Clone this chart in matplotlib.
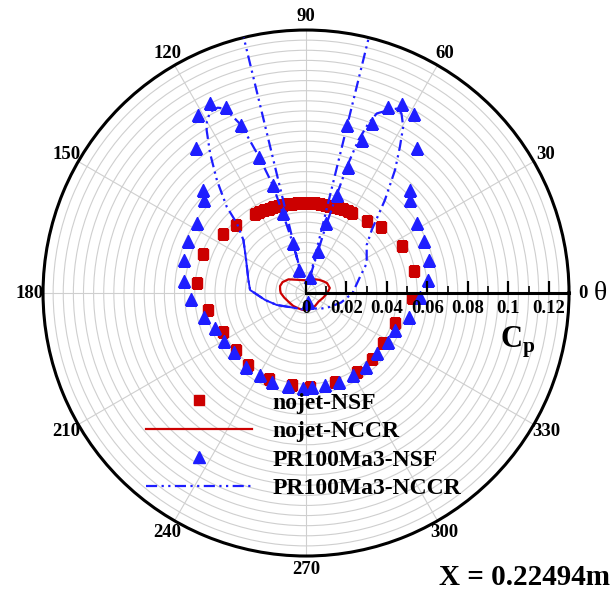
import numpy as np
import matplotlib.pyplot as plt

plt.rcParams['font.family'] = 'Liberation Serif'
plt.rcParams['font.weight'] = 'bold'
plt.rcParams['mathtext.fontset'] = 'custom'
plt.rcParams['mathtext.rm'] = 'Liberation Serif:bold'
plt.rcParams['mathtext.bf'] = 'Liberation Serif:bold'

#%% data: theta in degrees, Cp as radius

# nojet-NSF (squares)
nojet_nsf_th = [11.5, 26.3, 41.2, 49.7, 60, 63, 66, 69, 72, 75, 78, 81, 84, 87, 90, 93,
                96, 99, 102, 105, 108, 111, 114, 117, 120, 123, 135.8, 144.7, 159.3,
                174.6, 189.8, 204.9, 219, 231, 247, 261.2, 272.4, 288.1, 302.8, 315,
                326.9, 341.2, 357.1]
nojet_nsf_cp = [0.0545, 0.053, 0.0492, 0.0468, 0.0456, 0.0454, 0.0452, 0.045, 0.0448,
                0.0447, 0.0446, 0.0446, 0.0446, 0.0446, 0.0446, 0.0446, 0.0446, 0.0447,
                0.0448, 0.0449, 0.0451, 0.0453, 0.0456, 0.0459, 0.0462, 0.0466, 0.0482,
                0.0504, 0.0542, 0.0542, 0.0493, 0.0453, 0.0447, 0.0457, 0.0463, 0.046,
                0.0463, 0.0461, 0.0462, 0.046, 0.0456, 0.0464, 0.0523]

# nojet-NCCR (red line)
nojet_nccr_th = [0, 12, 25, 33, 45, 57, 75, 90, 105, 121, 142, 155, 165, 173, 180, 192,
                 206, 225, 243, 261, 284, 305, 325, 345, 360]
nojet_nccr_cp = [0.0105, 0.012, 0.0115, 0.0105, 0.0092, 0.0081, 0.0068, 0.0063, 0.0066,
                 0.0076, 0.011, 0.0128, 0.0133, 0.0129, 0.0125, 0.011, 0.0097, 0.009,
                 0.0085, 0.0085, 0.0083, 0.0078, 0.0075, 0.0088, 0.0105]

# PR100Ma3-NSF (triangles)
pr_nsf_th = [358.1, 347.1, 337.4, 329.4, 319.5, 309, 300, 290.6, 281.7, 273.6, 268.4,
             258.9, 249.2, 240.7, 230.8, 219.3, 210.4, 201.2, 193.1, 183, 174.4, 165,
             156.2, 147.3, 137.8, 134.9, 127.2, 121.2, 116.8, 113.3, 111.1, 109, 107.1,
             106.3, 104.8, 106.5, 285, 76.2, 74.5, 74, 72.6, 71.5, 70.1, 76.4, 68.8,
             66.3, 63.1, 58.8, 52.7, 44.7, 41.8, 32.4, 23.7, 15, 6.1]
pr_nsf_cp = [0.0563, 0.0523, 0.0476, 0.0472, 0.0459, 0.0468, 0.0467, 0.0469, 0.0464,
             0.0464, 0.0468, 0.0468, 0.0469, 0.0464, 0.0469, 0.0458, 0.0468, 0.0482,
             0.0516, 0.0569, 0.0605, 0.0627, 0.0636, 0.0642, 0.0684, 0.0719, 0.0898,
             0.1027, 0.105, 0.1, 0.0889, 0.0709, 0.0558, 0.041, 0.0257, 0.0118, 0.0044,
             0.0082, 0.0217, 0.0358, 0.0507, 0.0658, 0.0807, 0.0854, 0.0899, 0.1004,
             0.105, 0.1032, 0.0902, 0.0723, 0.0689, 0.0647, 0.0638, 0.063, 0.0607]

# PR100Ma3-NCCR (blue dash-dot), runs past the outer circle between 76 and 104 deg
pr_nccr_th = [270, 295.5, 312, 330, 345, 0, 16.8, 26.1, 38.3, 43.8, 49.7, 54.1, 57.3,
              59.7, 62.0, 63.8, 65.8, 68.5, 69.8, 71.1, 72.1, 72.6, 73.5, 74.0, 76.2,
              76.2, 80, 100, 103.7, 104.6, 104.8, 106.3, 107.1, 109.0, 111.1, 113.7,
              115.5, 117.9, 120.0, 121.4, 124.5, 128.3, 132.6, 134.8, 139.8, 151.2,
              167.3, 176.9, 189.7, 202.3, 238.7, 270]
pr_nccr_cp = [0.0085, 0.0084, 0.0105, 0.0137, 0.018, 0.023, 0.0279, 0.0334, 0.0382,
              0.045, 0.0603, 0.075, 0.0859, 0.0952, 0.1005, 0.1016, 0.0991, 0.0954,
              0.0893, 0.0799, 0.0655, 0.0507, 0.0359, 0.0221, 0.0083, 0.1363, 0.16,
              0.16, 0.1362, 0.0118, 0.0257, 0.041, 0.0558, 0.0709, 0.0889, 0.0996,
              0.1015, 0.1013, 0.098, 0.0943, 0.0837, 0.0711, 0.0579, 0.0485, 0.0405,
              0.0338, 0.0292, 0.0277, 0.0205, 0.0156, 0.0088, 0.0085]
solid_from, solid_to = 44, 51   # this stretch looks solid in the original

r_major = [0, 0.02, 0.04, 0.06, 0.08, 0.1, 0.12]
r_minor = [0.01, 0.03, 0.05, 0.07, 0.09, 0.11]
theta_labels = ['0', '30', '60', '90', '120', '150', '180', '210', '240', '270', '300', '330']

red = '#cc0000'
blue = '#1e1eff'

#%% figure
fig = plt.figure(figsize=(6.16, 5.90), dpi=100)
ax = fig.add_axes([0.0698, 0.0576, 0.854, 0.8915], projection='polar')
ax.set_ylim(0, 0.13)

ax.set_thetagrids(np.arange(0, 360, 30), theta_labels, fontsize=13.5, fontweight='bold')
ax.set_xticks(np.deg2rad(np.arange(0, 360, 6)), minor=True)
ax.tick_params(axis='x', which='major', direction='in', length=13, width=1.8, pad=3)
ax.tick_params(axis='x', which='minor', direction='in', length=6, width=1)
ax.set_yticks(np.arange(0.005, 0.1301, 0.005))
ax.set_yticklabels([])
ax.tick_params(axis='y', length=0)
ax.grid(True, color='#cfcfcf', lw=0.8)
ax.spines['polar'].set_linewidth(2.2)

ax.plot(np.deg2rad(nojet_nsf_th), nojet_nsf_cp, ls='none', marker='s', ms=7.5,
        color=red, label='nojet-NSF', zorder=3)
ax.plot(np.deg2rad(nojet_nccr_th), nojet_nccr_cp, color=red, lw=1.6,
        label='nojet-NCCR', zorder=3)
ax.plot(np.deg2rad(pr_nsf_th), pr_nsf_cp, ls='none', marker='^', ms=9,
        color=blue, label='PR100Ma3-NSF', zorder=4)
ax.plot(np.deg2rad(pr_nccr_th), pr_nccr_cp, color=blue, lw=1.6,
        ls=(0, (5, 2, 1, 2, 1, 2)), label='PR100Ma3-NCCR', zorder=4)
ax.plot(np.deg2rad(pr_nccr_th[solid_from:solid_to]), pr_nccr_cp[solid_from:solid_to],
        color=blue, lw=1.4, zorder=4)

# radial axis along theta = 0
ax.plot([0, 0], [0, 0.13], color='k', lw=2.2, zorder=5, clip_on=False)
ax.plot(np.zeros(len(r_major)), r_major, ls='none', marker=2, ms=9, mew=1.6,
        color='k', zorder=5, clip_on=False)
ax.plot(np.zeros(len(r_minor)), r_minor, ls='none', marker=2, ms=5, mew=1.2,
        color='k', zorder=5)
for r in r_major:
    ax.annotate(f'{r:g}', (0, r), xytext=(0, -5), textcoords='offset points',
                ha='center', va='top', fontsize=13.5, fontweight='bold', zorder=6)

ax.legend(loc='upper left', bbox_to_anchor=(146 / 616, 1 - 392 / 590),
          bbox_transform=fig.transFigure, frameon=False, fontsize=17,
          handlelength=4.5, handletextpad=0.85, labelspacing=0.3,
          borderpad=0, borderaxespad=0, numpoints=1)

fig.text(0.812, 0.42, r'$\mathrm{C}_\mathrm{p}$', fontsize=22, ha='left', va='center')
fig.text(0.975, 0.503, 'θ', fontsize=20, fontweight='normal', ha='center', va='center')
fig.text(0.852, 0.022, 'X = 0.22494m', fontsize=21, fontweight='bold',
         ha='center', va='center')

fig.savefig('out.png', dpi=100)
